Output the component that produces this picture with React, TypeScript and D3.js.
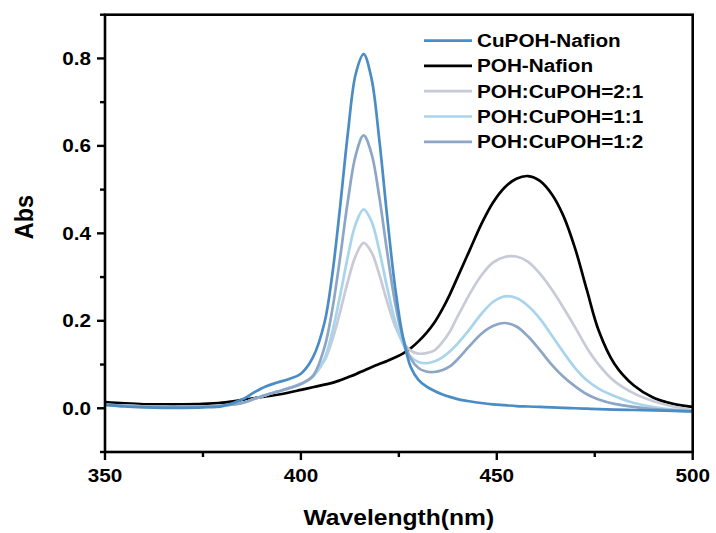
import React from "react";
import * as d3 from "d3";

const wavelengths = [350,355,360,365,370,375,380,385,388,391,394,397,400,403,406,408,410,412,414,416,418,420,422,424,426,428,430,432,434,436,438,440,443,446,449,452,455,458,461,464,467,470,473,476,480,485,490,495,500];

const cuPOH = [0.008,0.004,0.002,0.001,0.001,0.002,0.005,0.02,0.036,0.05,0.059,0.067,0.079,0.115,0.195,0.305,0.46,0.63,0.765,0.81,0.755,0.615,0.44,0.28,0.165,0.095,0.065,0.05,0.04,0.032,0.026,0.021,0.016,0.012,0.009,0.007,0.005,0.004,0.003,0.002,0.001,0.0,-0.001,-0.002,-0.003,-0.004,-0.005,-0.006,-0.007];

const poh = [0.014,0.011,0.009,0.009,0.009,0.01,0.013,0.019,0.023,0.027,0.031,0.036,0.042,0.048,0.054,0.058,0.064,0.071,0.078,0.086,0.094,0.101,0.108,0.116,0.125,0.137,0.153,0.172,0.195,0.225,0.26,0.3,0.36,0.42,0.47,0.505,0.525,0.531,0.52,0.49,0.44,0.365,0.27,0.178,0.102,0.052,0.024,0.01,0.003];

const ratio21 = [0.008,0.006,0.004,0.003,0.003,0.004,0.006,0.012,0.021,0.03,0.038,0.046,0.055,0.074,0.109,0.156,0.22,0.291,0.349,0.378,0.357,0.306,0.244,0.189,0.152,0.132,0.125,0.126,0.132,0.15,0.175,0.21,0.26,0.303,0.333,0.346,0.347,0.335,0.308,0.272,0.23,0.185,0.138,0.1,0.062,0.034,0.016,0.004,-0.004];

const ratio11 = [0.008,0.006,0.004,0.003,0.003,0.004,0.006,0.012,0.021,0.03,0.038,0.046,0.056,0.072,0.113,0.174,0.257,0.348,0.422,0.455,0.428,0.361,0.277,0.201,0.148,0.118,0.106,0.103,0.107,0.116,0.13,0.148,0.18,0.215,0.243,0.256,0.252,0.234,0.205,0.167,0.128,0.092,0.064,0.045,0.028,0.012,0.003,-0.003,-0.006];

const ratio12 = [0.008,0.006,0.004,0.003,0.003,0.004,0.006,0.012,0.021,0.03,0.038,0.046,0.056,0.073,0.139,0.225,0.344,0.475,0.579,0.624,0.583,0.484,0.358,0.243,0.162,0.114,0.092,0.084,0.083,0.087,0.096,0.112,0.142,0.17,0.188,0.195,0.187,0.164,0.133,0.1,0.072,0.05,0.032,0.02,0.01,0.003,-0.002,-0.005,-0.007];

const seriesNames = ["CuPOH-Nafion","POH-Nafion","POH:CuPOH=2:1","POH:CuPOH=1:1","POH:CuPOH=1:2"];
const seriesValues = [cuPOH, poh, ratio21, ratio11, ratio12];
const seriesColors = ["#4a8cc4","#000000","#c8cad8","#a8d5ec","#8da6c6"];
const drawOrder = [1, 2, 3, 4, 0];

const xTicks = [350,400,450,500];
const xMinor = [375,425,475];
const yTicks = [0.0,0.2,0.4,0.6,0.8];
const yMinor = [-0.1,0.1,0.3,0.5,0.7,0.9];

const xLabel = "Wavelength(nm)";
const yLabel = "Abs";

export default function App() {
  const left = 105, right = 692.7, top = 14.7, bottom = 452;
  const x = d3.scaleLinear().domain([350, 500]).range([left, right]);
  const y = d3.scaleLinear().domain([-0.1, 0.9]).range([bottom, top]);
  const line = d3.line<number>()
    .x((_, i) => x(wavelengths[i]))
    .y((d) => y(d))
    .curve(d3.curveCatmullRom.alpha(0.5));
  const font = "'Liberation Sans', Arial, sans-serif";
  const sx = 1.12;
  const legendX = 424, legendY = 40.6, legendStep = 25.3;

  return (
    <svg width={716} height={533} style={{ position: "absolute", left: 0, top: 0, background: "#fff" }}>
      <rect x={0} y={0} width={716} height={533} fill="#fff" />
      <defs>
        <clipPath id="plotclip">
          <rect x={left} y={top} width={right - left} height={bottom - top} />
        </clipPath>
      </defs>
      <g clipPath="url(#plotclip)">
        {drawOrder.map((k) => (
          <path key={k} d={line(seriesValues[k]) || ""} fill="none" stroke={seriesColors[k]} strokeWidth={2.7} strokeLinejoin="round" strokeLinecap="round" />
        ))}
      </g>
      <rect x={left} y={top} width={right - left} height={bottom - top} fill="none" stroke="#000" strokeWidth={2.6} />
      {xTicks.map((t) => (
        <g key={"xt" + t}>
          <line x1={x(t)} x2={x(t)} y1={bottom} y2={bottom + 8} stroke="#000" strokeWidth={2.4} />
          <text x={0} y={0} transform={`translate(${x(t)},${bottom + 30}) scale(${sx},1)`} textAnchor="middle" fontFamily={font} fontWeight="bold" fontSize={18.5} fill="#000">{t}</text>
        </g>
      ))}
      {xMinor.map((t) => (
        <line key={"xm" + t} x1={x(t)} x2={x(t)} y1={bottom} y2={bottom + 5} stroke="#000" strokeWidth={2.4} />
      ))}
      {yTicks.map((t) => (
        <g key={"yt" + t}>
          <line x1={left - 8} x2={left} y1={y(t)} y2={y(t)} stroke="#000" strokeWidth={2.4} />
          <text x={0} y={0} transform={`translate(${left - 14},${y(t) + 6.5}) scale(${sx},1)`} textAnchor="end" fontFamily={font} fontWeight="bold" fontSize={18.5} fill="#000">{t.toFixed(1)}</text>
        </g>
      ))}
      {yMinor.map((t) => (
        <line key={"ym" + t} x1={left - 5} x2={left} y1={y(t)} y2={y(t)} stroke="#000" strokeWidth={2.4} />
      ))}
      <text x={0} y={0} transform={`translate(${(left + right) / 2},${525}) scale(${sx},1)`} textAnchor="middle" fontFamily={font} fontWeight="bold" fontSize={22} fill="#000">{xLabel}</text>
      <text x={0} y={0} transform={`translate(${33},${217}) scale(${sx},1) rotate(-90)`} textAnchor="middle" fontFamily={font} fontWeight="bold" fontSize={23.5} fill="#000">{yLabel}</text>
      {seriesNames.map((name, i) => (
        <g key={name}>
          <line x1={legendX} x2={legendX + 48} y1={legendY + i * legendStep} y2={legendY + i * legendStep} stroke={seriesColors[i]} strokeWidth={2.7} />
          <text x={0} y={0} transform={`translate(${legendX + 53},${legendY + i * legendStep + 6.5}) scale(${sx},1)`} fontFamily={font} fontWeight="bold" fontSize={18.5} fill="#000">{name}</text>
        </g>
      ))}
    </svg>
  );
}
